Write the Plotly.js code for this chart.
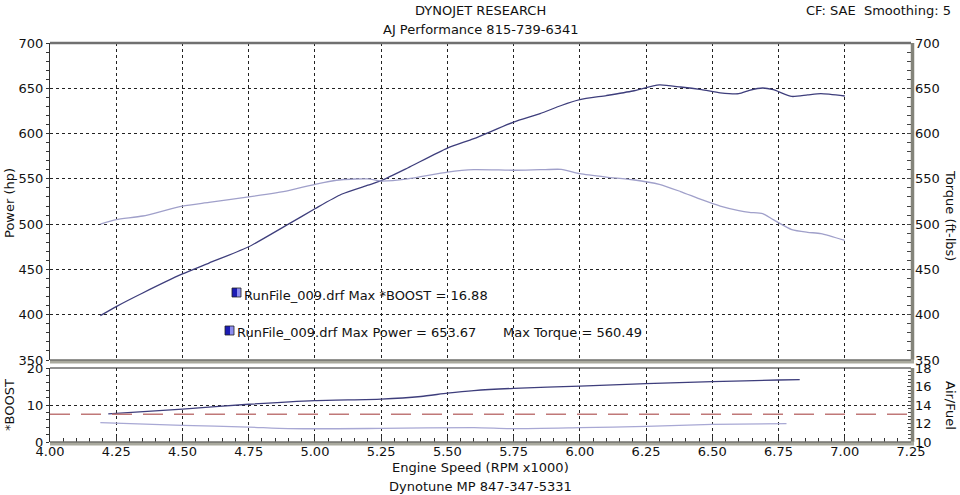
<!DOCTYPE html>
<html>
<head>
<meta charset="utf-8">
<script src="https://cdn.plot.ly/plotly-3.0.1.min.js"></script>
<style>html,body{margin:0;padding:0;background:#fff;}#chart{width:960px;height:495px;}</style>
</head>
<body>
<div id="chart"></div>
<script>
// ---- data ----
const rpm = [4.19, 4.25, 4.35, 4.5, 4.6, 4.75, 4.9, 5.0, 5.1, 5.2, 5.25, 5.35, 5.5, 5.6, 5.75, 5.85, 5.93, 6.0, 6.1, 6.2, 6.3, 6.38, 6.46, 6.53, 6.6, 6.64, 6.69, 6.73, 6.8, 6.86, 6.91, 7.0];
const power = [399, 409, 424, 445, 457, 475, 500, 517, 533, 543, 548, 562, 584, 594.4, 612.7, 622, 631, 637.4, 642, 647, 653.67, 651.4, 648.4, 645, 644, 647.7, 650.3, 648.4, 641, 642.7, 644, 641.5];
const torque = [500, 505, 509, 520, 524, 530, 537, 544, 549, 550, 547.6, 550, 557.5, 560.2, 559.5, 560.1, 560.49, 555.7, 552, 549, 544, 536, 527, 520, 515, 513, 511.6, 505, 494, 491, 489.5, 482];

const rpmBoost = [4.22, 4.5, 4.75, 5.0, 5.25, 5.4, 5.5, 5.6, 5.75, 6.0, 6.25, 6.5, 6.75, 6.83];
const boost = [7.6, 8.9, 10.2, 11.2, 11.6, 12.3, 13.2, 13.9, 14.5, 15.1, 15.8, 16.3, 16.75, 16.88];

const rpmAfr = [4.19, 4.5, 4.75, 4.9, 5.25, 5.6, 5.75, 6.0, 6.25, 6.5, 6.78];
const afr = [12.09, 11.8, 11.61, 11.44, 11.47, 11.55, 11.44, 11.55, 11.69, 11.9, 11.98];

const rpmTarget = [4.0, 7.25];
const afrTarget = [13.0, 13.0];

const headerTitle = 'DYNOJET RESEARCH';
const headerSub = 'AJ Performance 815-739-6341';
const headerRight = 'CF: SAE\u00a0\u00a0Smoothing: 5';
const footer = 'Dynotune MP 847-347-5331';
const legendBoost = 'RunFile_009.drf Max *BOOST = 16.88';
const legendPower = 'RunFile_009.drf Max Power = 653.67';
const legendTorque = 'Max Torque = 560.49';

// ---- layout helpers ----
const L = 50, R = 49, T = 43, B = 53, W = 960, H = 495;
const PH = H - T - B, PW = W - L - R;
const px = v => (v - L) / PW;          // pixel x -> paper
const py = v => (H - B - v) / PH;      // pixel y -> paper
const mainBottom = py(360), bottomTop = py(368);

const FONT = 'DejaVu Sans, Verdana, sans-serif';
const POWER_C = '#3e3e7c', TORQUE_C = '#a0a0ca', BOOST_C = '#3e3e7c', AFR_C = '#a8a8d4', TARGET_C = '#c07878';

const traces = [
  {x: rpm, y: power, xaxis: 'x', yaxis: 'y', mode: 'lines', line: {color: POWER_C, width: 1.3, shape: 'spline', smoothing: 0.6}, hoverinfo: 'skip'},
  {x: rpm, y: torque, xaxis: 'x', yaxis: 'y2', mode: 'lines', line: {color: TORQUE_C, width: 1.3, shape: 'spline', smoothing: 0.6}, hoverinfo: 'skip'},
  {x: rpmTarget, y: afrTarget, xaxis: 'x', yaxis: 'y4', mode: 'lines', line: {color: TARGET_C, width: 1.5, dash: '20px,11px'}, hoverinfo: 'skip'},
  {x: rpmBoost, y: boost, xaxis: 'x', yaxis: 'y3', mode: 'lines', line: {color: BOOST_C, width: 1.3, shape: 'spline', smoothing: 0.6}, hoverinfo: 'skip'},
  {x: rpmAfr, y: afr, xaxis: 'x', yaxis: 'y4', mode: 'lines', line: {color: AFR_C, width: 1.3, shape: 'spline', smoothing: 0.6}, hoverinfo: 'skip'}
];

const tickFont = {family: FONT, size: 13, color: '#111'};
const grid = {showgrid: true, gridcolor: '#222', griddash: 'dot', gridwidth: 1};

const layout = {
  width: W, height: H,
  margin: {l: L, r: R, t: T, b: B},
  paper_bgcolor: '#fff', plot_bgcolor: '#fff',
  showlegend: false,
  font: {family: FONT, size: 13, color: '#111'},
  xaxis: Object.assign({
    range: [4, 7.25], dtick: 0.25, tick0: 4, tickformat: '.2f', anchor: 'y3',
    ticks: 'inside', ticklen: 6, tickcolor: '#333',
    minor: {dtick: 0.05, ticks: 'inside', ticklen: 4, tickcolor: '#333', showgrid: false},
    tickfont: tickFont, zeroline: false, showline: false, fixedrange: true
  }, grid),
  yaxis: Object.assign({
    domain: [mainBottom, 1], range: [350, 700], dtick: 50, tick0: 350,
    ticks: 'outside', ticklen: 3, tickcolor: '#333',
    minor: {dtick: 10, ticks: 'outside', ticklen: 3, tickcolor: '#333', showgrid: false},
    tickfont: tickFont, zeroline: false, showline: true, linecolor: '#333', linewidth: 1
  }, grid),
  yaxis2: {
    overlaying: 'y', side: 'right', range: [350, 700], dtick: 50, tick0: 350,
    ticks: 'inside', ticklen: 4, tickcolor: '#444',
    minor: {dtick: 10, ticks: 'inside', ticklen: 4, tickcolor: '#444'},
    tickfont: tickFont, showgrid: false, zeroline: false, ticklabelstandoff: 3
  },
  yaxis3: Object.assign({
    domain: [0, bottomTop], range: [0, 20], dtick: 10, tick0: 0, anchor: 'x',
    ticks: 'outside', ticklen: 3, tickcolor: '#333',
    minor: {dtick: 2, ticks: 'outside', ticklen: 3, tickcolor: '#333', showgrid: false},
    tickfont: tickFont, zeroline: false, showline: true, linecolor: '#333', linewidth: 1
  }, grid),
  yaxis4: {
    overlaying: 'y3', side: 'right', range: [10, 18], dtick: 2, tick0: 10, anchor: 'x',
    ticks: 'inside', ticklen: 4, tickcolor: '#444',
    minor: {dtick: 0.4, ticks: 'inside', ticklen: 3, tickcolor: '#444'},
    tickfont: tickFont, showgrid: false, zeroline: false, ticklabelstandoff: 3
  },
  shapes: [
    // main panel frame
    {type: 'line', xref: 'paper', yref: 'paper', x0: 0, x1: 1, y0: 1, y1: 1, line: {color: '#707070', width: 2.5}, layer: 'above'},
    {type: 'line', xref: 'paper', yref: 'paper', x0: 1 + 1.5 / PW, x1: 1 + 1.5 / PW, y0: mainBottom, y1: 1, line: {color: '#84847a', width: 3.5}, layer: 'above'},
    {type: 'line', xref: 'paper', yref: 'paper', x0: 0, x1: 1 + 3 / PW, y0: mainBottom - 1.5 / PH, y1: mainBottom - 1.5 / PH, line: {color: '#a9a99d', width: 4}, layer: 'above'},
    {type: 'line', xref: 'paper', yref: 'paper', x0: 0, x1: 1, y0: mainBottom, y1: mainBottom, line: {color: '#555', width: 1}, layer: 'above'},
    // bottom panel frame
    {type: 'line', xref: 'paper', yref: 'paper', x0: 0, x1: 1, y0: bottomTop, y1: bottomTop, line: {color: '#222', width: 1.2}, layer: 'above'},
    {type: 'line', xref: 'paper', yref: 'paper', x0: 1 + 1.5 / PW, x1: 1 + 1.5 / PW, y0: 0, y1: bottomTop, line: {color: '#84847a', width: 3.5}, layer: 'above'},
    {type: 'line', xref: 'paper', yref: 'paper', x0: 0, x1: 1 + 3 / PW, y0: -1.5 / PH, y1: -1.5 / PH, line: {color: '#a9a99d', width: 4}, layer: 'above'},
    {type: 'line', xref: 'paper', yref: 'paper', x0: 0, x1: 1, y0: 0, y1: 0, line: {color: '#555', width: 1}, layer: 'above'},
    // legend icons
    {type: 'rect', xref: 'paper', yref: 'paper', x0: px(232), x1: px(237), y0: py(297), y1: py(288), fillcolor: '#1c1cb4', line: {width: 0}},
    {type: 'rect', xref: 'paper', yref: 'paper', x0: px(237), x1: px(241), y0: py(297), y1: py(288), fillcolor: '#8c8cf0', line: {width: 0}},
    {type: 'rect', xref: 'paper', yref: 'paper', x0: px(232), x1: px(241), y0: py(297), y1: py(288), line: {color: '#222', width: 0.8}},
    {type: 'rect', xref: 'paper', yref: 'paper', x0: px(225), x1: px(230), y0: py(335), y1: py(326), fillcolor: '#1c1cb4', line: {width: 0}},
    {type: 'rect', xref: 'paper', yref: 'paper', x0: px(230), x1: px(234), y0: py(335), y1: py(326), fillcolor: '#8c8cf0', line: {width: 0}},
    {type: 'rect', xref: 'paper', yref: 'paper', x0: px(225), x1: px(234), y0: py(335), y1: py(326), line: {color: '#222', width: 0.8}}
  ],
  annotations: [
    {text: headerTitle, xref: 'paper', yref: 'paper', x: px(480), y: py(10.5), xanchor: 'center', yanchor: 'middle', showarrow: false, font: {family: FONT, size: 13, color: '#111'}},
    {text: headerSub, xref: 'paper', yref: 'paper', x: px(480), y: py(29.5), xanchor: 'center', yanchor: 'middle', showarrow: false, font: {family: FONT, size: 13, color: '#111'}},
    {text: headerRight, xref: 'paper', yref: 'paper', x: px(953), y: py(10.5), xanchor: 'right', yanchor: 'middle', showarrow: false, font: {family: FONT, size: 13, color: '#111'}},
    {text: 'Engine Speed (RPM x1000)', xref: 'paper', yref: 'paper', x: px(480), y: py(467), xanchor: 'center', yanchor: 'middle', showarrow: false, font: {family: FONT, size: 13, color: '#111'}},
    {text: footer, xref: 'paper', yref: 'paper', x: px(480), y: py(486), xanchor: 'center', yanchor: 'middle', showarrow: false, font: {family: FONT, size: 13, color: '#111'}},
    {text: 'Power (hp)', xref: 'paper', yref: 'paper', x: px(9), y: py(203), xanchor: 'center', yanchor: 'middle', textangle: -90, showarrow: false, font: {family: FONT, size: 13, color: '#111'}},
    {text: '*BOOST', xref: 'paper', yref: 'paper', x: px(9), y: py(405), xanchor: 'center', yanchor: 'middle', textangle: -90, showarrow: false, font: {family: FONT, size: 13, color: '#111'}},
    {text: 'Torque (ft-lbs)', xref: 'paper', yref: 'paper', x: px(951), y: py(215), xanchor: 'center', yanchor: 'middle', textangle: 90, showarrow: false, font: {family: FONT, size: 13, color: '#111'}},
    {text: 'Air/Fuel', xref: 'paper', yref: 'paper', x: px(951), y: py(405), xanchor: 'center', yanchor: 'middle', textangle: 90, showarrow: false, font: {family: FONT, size: 13, color: '#111'}},
    {text: legendBoost, xref: 'paper', yref: 'paper', x: px(242), y: py(295.5), xanchor: 'left', yanchor: 'middle', showarrow: false, font: {family: FONT, size: 13, color: '#111'}},
    {text: legendPower, xref: 'paper', yref: 'paper', x: px(235), y: py(332), xanchor: 'left', yanchor: 'middle', showarrow: false, font: {family: FONT, size: 13, color: '#111'}},
    {text: legendTorque, xref: 'paper', yref: 'paper', x: px(501), y: py(332), xanchor: 'left', yanchor: 'middle', showarrow: false, font: {family: FONT, size: 13, color: '#111'}}
  ]
};

Plotly.newPlot('chart', traces, layout, {staticPlot: true, displayModeBar: false});
</script>
</body>
</html>
